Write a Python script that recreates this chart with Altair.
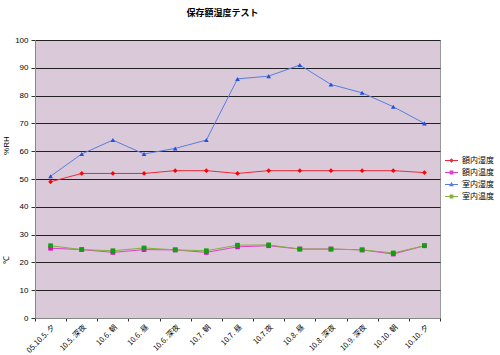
import altair as alt
import pandas as pd

categories = ["05.10.5. 夕", "10.5. 深夜", "10.6. 朝", "10.6. 昼", "10.6. 深夜", "10.7. 朝",
              "10.7. 昼", "10.7.夜", "10.8. 昼", "10.8. 深夜", "10.9. 深夜", "10.10. 朝", "10.10. 夕"]
series_names = ["額内湿度", "額内温度", "室内湿度", "室内温度"]
frame_humidity = [49, 52, 52, 52, 53, 53, 52, 53, 53, 53, 53, 53, 52.3]
frame_temp = [25.1, 24.6, 23.6, 24.6, 24.5, 23.6, 25.6, 26.0, 24.8, 24.8, 24.5, 23.0, 26.0]
room_humidity = [51, 59, 64, 59, 61, 64, 86, 87, 91, 84, 81, 76, 70]
room_temp = [26.0, 24.6, 24.2, 25.2, 24.5, 24.2, 26.2, 26.3, 24.8, 24.8, 24.5, 23.4, 26.0]
y_ticks = list(range(0, 101, 10))

line_colors = ["#ee2a3a", "#e040c8", "#5a7ee0", "#86b040"]
marker_colors = ["#ff0000", "#e010c0", "#2050e0", "#10a010"]
marker_shapes = ["diamond", "square", "triangle-up", "square"]
legend_paths = [
    "M-1,0H1M-0.22,0L0,-0.22L0.22,0L0,0.22Z",
    "M-1,0H1M-0.2,-0.2H0.2V0.2H-0.2Z",
    "M-1,0H1M0,-0.24L0.22,0.16H-0.22Z",
    "M-1,0H1M-0.2,-0.2H0.2V0.2H-0.2Z",
]

rows = []
for name, vals in zip(series_names, [frame_humidity, frame_temp, room_humidity, room_temp]):
    for c, v in zip(categories, vals):
        rows.append({"series": name, "cat": c, "value": v})
df = pd.DataFrame(rows)

FONT = "Noto Sans CJK JP"

x_axis = alt.Axis(title=None, labelAngle=-45, labelFontSize=7.5, labelFont=FONT,
                  labelColor="#000", tickBand="extent", tickSize=3, tickColor="#333",
                  domainColor="#888", labelPadding=2, grid=False)
y_axis = alt.Axis(title=None, values=y_ticks, labelFontSize=8, labelFont="Liberation Sans",
                  labelColor="#000", grid=True, gridColor="#222", gridWidth=1.1,
                  labelOverlap=False, tickSize=4, tickColor="#333", domainColor="#888",
                  labelPadding=3)
x_scale = alt.Scale(paddingInner=0, paddingOuter=0)
y_scale = alt.Scale(domain=[0, 100], nice=False)

def X():
    return alt.X("cat:N", sort=categories, scale=x_scale, axis=x_axis)

def Y(field="value:Q"):
    return alt.Y(field, scale=y_scale, axis=y_axis)

order_map = {n: i for i, n in enumerate(series_names)}
draw_order = ["額内湿度", "室内湿度", "額内温度", "室内温度"]

lines = alt.Chart(df).mark_line(strokeWidth=1).encode(
    x=X(), y=Y(),
    color=alt.Color("series:N", scale=alt.Scale(domain=draw_order,
                    range=[line_colors[order_map[n]] for n in draw_order]), legend=None),
    detail="series:N",
)

points = alt.Chart(df).mark_point(filled=True, size=22, opacity=1).encode(
    x=X(), y=Y(),
    fill=alt.Fill("series:N", scale=alt.Scale(domain=series_names, range=marker_colors), legend=None),
    shape=alt.Shape("series:N", scale=alt.Scale(domain=series_names, range=marker_shapes), legend=None),
)

leg = alt.Legend(title=None, orient="none", legendX=409, legendY=113,
                 labelFont=FONT, labelFontSize=8, labelColor="#000",
                 symbolSize=169, rowPadding=0, labelOffset=3,
                 symbolOpacity=1, symbolStrokeWidth=1.2)

legend_layer = alt.Chart(df).mark_point(filled=True, opacity=0).encode(
    x=X(), y=Y(),
    fill=alt.Fill("series:N", scale=alt.Scale(domain=series_names, range=marker_colors), legend=leg),
    stroke=alt.Stroke("series:N", scale=alt.Scale(domain=series_names, range=line_colors), legend=leg),
    shape=alt.Shape("series:N", scale=alt.Scale(domain=series_names, range=legend_paths), legend=leg),
)

ann_df = pd.DataFrame({"t": ["%RH", "℃"], "v": [62, 21]})
ann = alt.Chart(ann_df).mark_text(angle=270, fontSize=8, font="Liberation Sans", color="#000").encode(
    x=alt.value(-28), y=Y("v:Q"), text="t:N"
)

chart = alt.layer(lines, points, legend_layer, ann).resolve_scale(
    shape="independent", color="independent", fill="independent", stroke="independent"
).properties(
    width=405, height=278,
    padding={"left": 35, "top": 40, "right": 60, "bottom": 37},
    autosize=alt.AutoSizeParams(type="none"),
    background="white",
    title=alt.TitleParams("保存額湿度テスト", font=FONT, fontSize=9, fontWeight="bold",
                          color="#000", anchor="middle", offset=18, dx=-15),
).configure_view(fill="#d9c9d9", stroke="#999", strokeWidth=1)

chart.save("out.html", embed_options={"renderer": "svg", "actions": False})
